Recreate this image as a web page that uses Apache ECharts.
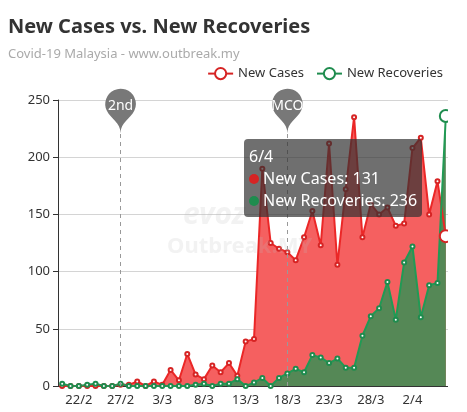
<!DOCTYPE html>
<html>
<head>
    <meta charset="utf-8">
    <script src="https://cdn.jsdelivr.net/npm/echarts@6/dist/echarts.min.js"></script>
    <style>
        body { margin: 0; background: #fff; }
        #wrap { width: 448px; height: 412px; overflow: hidden; position: relative; }
    </style>
</head>

<body>
    <div id="wrap">
        <div id="main" style="width: 462px;height:412px;"></div>
    </div>
    <script type="text/javascript">
        var myChart = echarts.init(document.getElementById('main'));

        // dates 20/2 .. 6/4
        var dates = ['20/2','21/2','22/2','23/2','24/2','25/2','26/2','27/2','28/2','29/2',
            '1/3','2/3','3/3','4/3','5/3','6/3','7/3','8/3','9/3','10/3',
            '11/3','12/3','13/3','14/3','15/3','16/3','17/3','18/3','19/3','20/3',
            '21/3','22/3','23/3','24/3','25/3','26/3','27/3','28/3','29/3','30/3',
            '31/3','1/4','2/4','3/4','4/4','5/4','6/4'];

        var newCases = [0, 0, 0, 0, 0, 0, 0, 1, 1, 4,
            0, 4, 1, 14, 5, 28, 10, 6, 18, 12,
            20, 9, 39, 41, 190, 125, 120, 117, 110, 130,
            153, 123, 212, 106, 172, 235, 130, 159, 150, 156,
            140, 142, 208, 217, 150, 179, 131];

        var newRecoveries = [2, 0, 0, 1, 2, 0, 0, 2, 0, 0,
            0, 0, 0, 0, 0, 0, 1, 2, 0, 2,
            2, 6, 0, 3, 7, 0, 7, 11, 15, 12,
            27, 25, 20, 24, 16, 16, 44, 61, 68, 91,
            58, 108, 122, 60, 88, 90, 236];

        // event markers
        var events = [
            {date: '27/2', name: '2nd'},
            {date: '18/3', name: 'MCO'}
        ];

        var font = 'Noto Sans';

        option = {
            backgroundColor: '#fff',
            textStyle: { fontFamily: font },
            animation: false,
            title: {
                text: 'New Cases vs. New Recoveries',
                subtext: 'Covid-19 Malaysia - www.outbreak.my',
                left: 3,
                top: 12,
                itemGap: 11,
                textStyle: { fontSize: 20, fontWeight: 'bold', color: '#333', fontFamily: font },
                subtextStyle: { fontSize: 13, color: '#aaa', fontFamily: font }
            },
            legend: {
                right: 14,
                top: 62,
                itemGap: 12,
                textStyle: { fontSize: 13, color: '#333' },
                data: ['New Cases', 'New Recoveries']
            },
            tooltip: {
                trigger: 'axis',
                alwaysShowContent: true,
                triggerOn: 'none',
                axisPointer: { type: 'none' },
                backgroundColor: 'rgba(50,50,50,0.7)',
                borderWidth: 0,
                padding: [6, 5],
                extraCssText: 'box-shadow:none;border-radius:4px;',
                textStyle: { color: '#fff', fontSize: 16, fontFamily: font },
                position: [244, 139],
                formatter: function (params) {
                    var s = '<div style="line-height:22px">' + params[0].axisValue;
                    for (var i = 0; i < params.length; i++) {
                        s += '<br/>' + params[i].marker + params[i].seriesName + ': ' + params[i].value;
                    }
                    return s + '</div>';
                }
            },
            // faint watermark
            graphic: [
                {
                    type: 'text', left: 183, top: 200, z: 100, silent: true,
                    style: { text: 'evoz', font: 'italic bold 30px ' + font, fill: 'rgba(190,190,190,0.2)' }
                },
                {
                    type: 'text', left: 167, top: 236, z: 100, silent: true,
                    style: { text: 'Outbreak.MY', font: 'bold 22px ' + font, fill: 'rgba(190,190,190,0.2)' }
                }
            ],
            grid: {
                left: 58,
                right: 12,
                top: 100,
                bottom: 26
            },
            xAxis: {
                type: 'category',
                boundaryGap: true,
                data: dates,
                axisLine: { lineStyle: { color: '#333' } },
                axisTick: {
                    interval: function (i) { return i % 5 === 2; },
                    lineStyle: { color: '#333' }
                },
                axisLabel: {
                    interval: function (i) { return i % 5 === 2; },
                    color: '#333',
                    fontSize: 13
                }
            },
            yAxis: {
                type: 'value',
                min: 0,
                max: 250,
                interval: 50,
                axisLine: { show: true, lineStyle: { color: '#333' } },
                axisTick: { show: true, lineStyle: { color: '#333' } },
                axisLabel: { color: '#333', fontSize: 13 },
                splitLine: { lineStyle: { color: '#d4d4d4' } }
            },
            series: [
                {
                    name: 'New Cases',
                    type: 'line',
                    data: newCases,
                    symbol: 'emptyCircle',
                    symbolSize: 4,
                    itemStyle: { color: '#d62424' },
                    lineStyle: { width: 2, color: '#d62424' },
                    areaStyle: { color: '#df5858', opacity: 1 },
                    emphasis: { scale: 3 },
                    markLine: {
                        silent: true,
                        symbol: 'none',
                        label: { show: false },
                        lineStyle: { type: [4, 4], color: '#999', width: 1 },
                        data: events.map(function (e) { return {xAxis: e.date}; })
                    },
                    markPoint: {
                        silent: true,
                        symbol: 'pin',
                        symbolSize: 51,
                        itemStyle: { color: '#787878' },
                        label: { color: '#fff', fontSize: 14, fontFamily: font },
                        data: events.map(function (e) {
                            return {coord: [e.date, 221], value: e.name};
                        })
                    }
                },
                {
                    name: 'New Recoveries',
                    type: 'line',
                    data: newRecoveries,
                    symbol: 'emptyCircle',
                    symbolSize: 4,
                    itemStyle: { color: '#1e8c4e' },
                    lineStyle: { width: 2, color: '#1e8c4e' },
                    areaStyle: { color: '#4e7c4f', opacity: 1 },
                    emphasis: { scale: 3 }
                }
            ]
        };

        myChart.setOption(option);
        myChart.dispatchAction({ type: 'showTip', seriesIndex: 0, dataIndex: dates.length - 1 });
    </script>
</body>

</html>
